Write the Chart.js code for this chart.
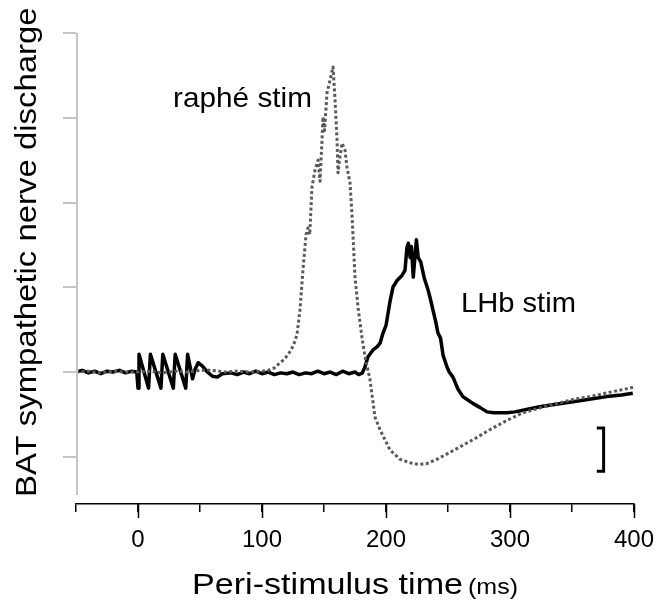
<!DOCTYPE html>
<html>
<head>
<meta charset="utf-8">
<script src="https://cdn.jsdelivr.net/npm/chart.js@4.4.0/dist/chart.umd.min.js"></script>
<style>
  html, body { margin: 0; padding: 0; background: #fff; }
</style>
</head>
<body>
<canvas id="chart" width="657" height="606"></canvas>
<script>
"use strict";

// LHb stim (solid black trace): time in ms, discharge in arbitrary units
const lhbTime = [-50, -45, -40, -35, -30, -25, -20, -15, -10, -5, -1,
  0, 0.8, 8.5, 10, 18.5, 20, 28.5, 30, 38.5, 40, 44, 46, 48.5, 52, 56, 60, 64, 68,
  75, 80, 85, 90, 95, 100, 105, 110, 115, 120, 125, 130, 135, 140, 145, 150, 155,
  160, 165, 170, 175, 178, 181, 183, 185.5, 189.5, 193, 195.2, 197.6, 200, 203.2,
  205.6, 208.9, 212.9, 215.3, 216.9, 218, 219.5, 220.5, 222, 224.5, 226, 228, 231,
  233.9, 236, 237.9, 240, 241.9, 244, 246, 249.2, 251, 254, 258, 262, 266, 270,
  276, 281.5, 287, 292, 297.6, 304, 310.5, 317, 324, 337, 350.8, 364, 378, 390, 399];
const lhbValue = [0.0, 0.02, -0.01, 0.01, -0.02, 0.01, 0.0, 0.02, -0.01, 0.01, 0.0,
  -0.19, 0.21, -0.19, 0.21, -0.19, 0.21, -0.19, 0.21, -0.19, 0.21, -0.08, 0.03, 0.11, 0.07, 0.0, -0.05, -0.06, -0.02,
  -0.01, -0.03, 0.0, -0.02, 0.01, -0.02, 0.0, -0.03, -0.01, -0.02, 0.0, -0.03, -0.01, -0.02, 0.01, -0.02, 0.0,
  -0.03, 0.01, -0.02, 0.0, -0.03, -0.01, 0.06, 0.18, 0.26, 0.3, 0.34, 0.46, 0.55, 0.83,
  1.0, 1.08, 1.14, 1.2, 1.47, 1.52, 1.35, 1.48, 1.12, 1.56, 1.35, 1.3, 1.1,
  0.97, 0.85, 0.73, 0.6, 0.46, 0.4, 0.2, 0.06, 0.0, -0.06, -0.2, -0.29, -0.33, -0.37,
  -0.42, -0.47, -0.48, -0.48, -0.48, -0.47, -0.45, -0.43, -0.41, -0.38, -0.35, -0.32, -0.29, -0.27, -0.25];

// raphé stim (dotted grey trace)
const rapheTime = [-50, -40, -30, -20, -10, 0, 10, 20, 30, 40, 50, 60, 70, 80, 90, 100,
  105, 110, 114.5, 118, 122.6, 125.5, 128.2, 130.6, 133, 135.5, 137, 138.5, 140.3, 142.7,
  145.2, 146.8, 148.4, 149.2, 150.5, 152.4, 154.8, 157.3, 158.9, 160.5, 161.3, 163, 164.5,
  166.9, 168.5, 171, 172.6, 175, 177.4, 180.6, 183.1, 187.1, 191.1, 195.2, 203.2, 211.3,
  219.4, 226, 233, 241, 250, 260, 270, 285, 297.6, 310.5, 325, 338, 352, 364.5, 380, 390, 399.2];
const rapheValue = [0.0, 0.01, -0.01, 0.01, 0.0, 0.0, 0.01, -0.01, 0.01, 0.0, 0.02, 0.02, 0.0, 0.01, 0.0, 0.01,
  0.02, 0.05, 0.11, 0.15, 0.24, 0.32, 0.44, 0.73, 1.2, 1.62, 1.7, 1.62, 2.18, 2.38,
  2.5, 2.25, 2.74, 3.01, 2.85, 3.29, 3.44, 3.6, 3.21, 2.74, 2.35, 2.55, 2.7,
  2.62, 2.42, 2.23, 1.85, 1.12, 0.77, 0.41, 0.18, -0.09, -0.53, -0.68, -0.92, -1.03,
  -1.07, -1.09, -1.08, -1.03, -0.96, -0.88, -0.8, -0.67, -0.57, -0.48, -0.42, -0.37, -0.32, -0.29, -0.24, -0.21, -0.18];

// calibration bracket
const scaleBarX = [370, 375.5, 375.5, 370];
const scaleBarY = [-0.66, -0.66, -1.17, -1.17];

const xTicks = [-50, 0, 50, 100, 150, 200, 250, 300, 350, 400];
const yTicks = [-1, 0, 1, 2, 3, 4];

const FONT = "'Liberation Sans', Arial, Helvetica, sans-serif";

function toPoints(xs, ys) {
  return xs.map((x, i) => ({ x: x, y: ys[i] }));
}

// draws text stretched horizontally like the original figure
function stretchText(ctx, text, x, y, size, sx, rotate) {
  ctx.save();
  ctx.translate(x, y);
  if (rotate) ctx.rotate(-Math.PI / 2);
  ctx.scale(sx, 1);
  ctx.font = size + 'px ' + FONT;
  ctx.fillStyle = '#000';
  ctx.textBaseline = 'alphabetic';
  ctx.textAlign = 'left';
  ctx.fillText(text, 0, 0);
  const w = ctx.measureText(text).width * sx;
  ctx.restore();
  return w;
}

const decor = {
  id: 'decor',
  afterDraw(chart) {
    const ctx = chart.ctx;
    const xs = chart.scales.x;
    const ys = chart.scales.y;
    const area = chart.chartArea;

    // grey y axis line, stops short of the x axis
    ctx.save();
    ctx.strokeStyle = '#c4c4c4';
    ctx.lineWidth = 2;
    ctx.beginPath();
    ctx.moveTo(area.left + 1, ys.getPixelForValue(4));
    ctx.lineTo(area.left + 1, ys.getPixelForValue(-1.45));
    ctx.stroke();

    // longer major ticks on x axis
    ctx.strokeStyle = '#000';
    ctx.lineWidth = 1.5;
    xs.ticks.forEach(t => {
      if (t.value % 100 === 0) {
        const px = Math.round(xs.getPixelForValue(t.value)) + 0.5;
        ctx.beginPath();
        ctx.moveTo(px, area.bottom);
        ctx.lineTo(px, area.bottom + 14);
        ctx.stroke();
      }
    });
    ctx.restore();

    // axis titles
    const w = stretchText(ctx, 'Peri-stimulus time', 192, 594, 30, 1.137, false);
    stretchText(ctx, '(ms)', 192 + w + 5, 594, 22, 1.137, false);
    stretchText(ctx, 'BAT sympathetic nerve discharge', 36, 497, 29, 1.135, true);

    // trace labels
    stretchText(ctx, 'raphé stim', 173, 107, 28, 1.063, false);
    stretchText(ctx, 'LHb stim', 461, 312, 28, 1.04, false);
  }
};

new Chart(document.getElementById('chart'), {
  type: 'line',
  data: {
    datasets: [
      {
        label: 'raphé stim',
        data: toPoints(rapheTime, rapheValue),
        borderColor: '#5a5a5a',
        borderWidth: 3,
        borderDash: [3, 2.5],
        order: 0
      },
      {
        label: 'LHb stim',
        data: toPoints(lhbTime, lhbValue),
        borderColor: '#000',
        borderWidth: 3.5,
        order: 1
      },
      {
        label: 'scale',
        data: toPoints(scaleBarX, scaleBarY),
        borderColor: '#000',
        borderWidth: 3,
        borderJoinStyle: 'miter',
        order: 2
      }
    ]
  },
  options: {
    responsive: false,
    animation: false,
    layout: { padding: { left: 0, right: 23, top: 33, bottom: 0 } },
    elements: {
      point: { radius: 0 },
      line: { tension: 0, fill: false, borderJoinStyle: 'round', borderCapStyle: 'butt' }
    },
    plugins: {
      legend: { display: false },
      tooltip: { enabled: false },
      title: { display: false }
    },
    scales: {
      x: {
        type: 'linear',
        min: -50,
        max: 400,
        afterFit(scale) {
          scale.height = 102;
          scale.paddingLeft = 0;
          scale.paddingRight = 0;
        },
        afterBuildTicks(scale) { scale.ticks = xTicks.map(v => ({ value: v })); },
        border: { display: true, color: '#000', width: 1.5 },
        grid: { drawOnChartArea: false, drawTicks: true, tickLength: 8, color: '#000', lineWidth: 1.5 },
        ticks: {
          autoSkip: false,
          maxRotation: 0,
          padding: 14,
          color: '#000',
          font: { family: FONT, size: 24 },
          callback: v => (v % 100 === 0 ? String(v) : '')
        }
      },
      y: {
        type: 'linear',
        min: -1.557,
        max: 4,
        afterFit(scale) {
          scale.width = 76;
          scale.paddingTop = 0;
          scale.paddingBottom = 0;
        },
        afterBuildTicks(scale) { scale.ticks = yTicks.map(v => ({ value: v })); },
        border: { display: false },
        grid: { drawOnChartArea: false, drawTicks: true, tickLength: 13, color: '#c4c4c4', lineWidth: 2 },
        ticks: { display: false }
      }
    }
  },
  plugins: [decor]
});
</script>
</body>
</html>
